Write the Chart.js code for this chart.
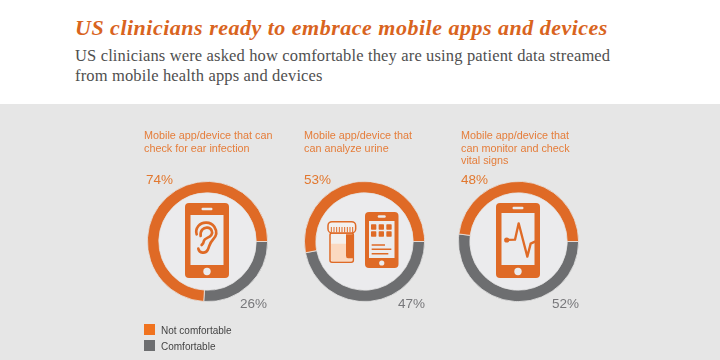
<!DOCTYPE html>
<html>
<head>
<meta charset="utf-8">
<script src="https://cdn.jsdelivr.net/npm/chart.js@4"></script>
<style>
    html, body { margin: 0; padding: 0; overflow: hidden; }
    body { width: 720px; height: 360px; position: relative; background: #fff; font-family: "Liberation Sans", sans-serif; }
    .abs { position: absolute; white-space: nowrap; }
    #panel { position: absolute; left: 0; top: 104px; width: 720px; height: 256px; background: #e6e6e6; }
    #title { left: 75px; top: 14px; font: italic bold 22px/28px "Liberation Serif", serif; color: #d9641e; letter-spacing: 0.5px; }
    #subtitle { left: 75px; top: 46px; font: 16.5px/19.5px "Liberation Serif", serif; color: #4f4f4f; letter-spacing: 0.15px; }
    .question { font-size: 10.8px; line-height: 12.5px; color: #e57d3a; }
    .pct { font-size: 13.5px; line-height: 16px; }
    .disc { position: absolute; border-radius: 50%; background: #ebebed; }
    canvas { position: absolute; }
    .swatch { position: absolute; width: 11px; height: 11px; left: 144px; }
    .legend-text { font-size: 10px; line-height: 12px; color: #444; left: 161px; }
    #icons { position: absolute; left: 0; top: 0; }
</style>
</head>
<body>
<div id="panel"></div>
<div class="abs" id="title">US clinicians ready to embrace mobile apps and devices</div>
<div class="abs" id="subtitle">US clinicians were asked how comfortable they are using patient data streamed<br>from mobile health apps and devices</div>

<svg id="icons" width="720" height="360"></svg>

<script>
document.addEventListener('DOMContentLoaded', function () {
    const questions = [
        ['Mobile app/device that can', 'check for ear infection'],
        ['Mobile app/device that', 'can analyze urine'],
        ['Mobile app/device that', 'can monitor and check', 'vital signs']
    ];
    const seriesNames = ['Not comfortable', 'Comfortable'];
    const notComfortable = [74, 53, 48];
    const comfortable = [26, 47, 52];

    const orange = '#df6a26';
    const gray = '#6d6e70';
    const panelColor = '#e6e6e6';

    const centerX = [207, 364.5, 518.5];
    const centerY = 241;
    const questionLeft = [144, 304, 461];
    const topPctLeft = [146, 304, 461];
    const bottomPctLeft = [240, 398, 552];

    function addText(text, left, top, cls, color) {
        const el = document.createElement('div');
        el.className = 'abs ' + cls;
        el.style.left = left + 'px';
        el.style.top = top + 'px';
        if (color) el.style.color = color;
        el.innerHTML = text;
        document.body.appendChild(el);
    }

    questions.forEach(function (lines, i) {
        addText(lines.join('<br>'), questionLeft[i], 129, 'question');
        addText(notComfortable[i] + '%', topPctLeft[i], 172, 'pct', '#e2782f');
        addText(comfortable[i] + '%', bottomPctLeft[i], 296, 'pct', '#77777a');

        const disc = document.createElement('div');
        disc.className = 'disc';
        disc.style.left = (centerX[i] - 51) + 'px';
        disc.style.top = (centerY - 51) + 'px';
        disc.style.width = '102px';
        disc.style.height = '102px';
        document.body.insertBefore(disc, document.getElementById('icons'));

        const canvas = document.createElement('canvas');
        canvas.width = 121;
        canvas.height = 121;
        canvas.style.left = (Math.round(centerX[i] - 60.5)) + 'px';
        canvas.style.top = (centerY - 60) + 'px';
        canvas.style.width = '121px';
        canvas.style.height = '121px';
        document.body.insertBefore(canvas, document.getElementById('icons'));

        new Chart(canvas.getContext('2d'), {
            type: 'doughnut',
            data: {
                labels: [seriesNames[1], seriesNames[0]],
                datasets: [{
                    data: [comfortable[i], notComfortable[i]],
                    backgroundColor: [gray, orange],
                    borderColor: panelColor,
                    borderWidth: 0.8
                }]
            },
            options: {
                responsive: false,
                animation: false,
                rotation: 90,
                cutout: '81%',
                plugins: { legend: { display: false }, tooltip: { enabled: false } }
            }
        });
    });

    // legend
    ['#f0731f', gray].forEach(function (color, i) {
        const box = document.createElement('div');
        box.className = 'swatch';
        box.style.top = (324 + i * 16) + 'px';
        box.style.background = color;
        document.body.appendChild(box);
        addText(seriesNames[i], 161, 325 + i * 16, 'legend-text');
    });

    // phone, ear, jar and pulse pictograms
    function phone(x, y, w, h, side, screenTop, screenBottom, speakerW, homeR) {
        const cx = x + w / 2;
        return `<rect x="${x}" y="${y}" width="${w}" height="${h}" rx="4" fill="${orange}"/>` +
            `<rect x="${x + side}" y="${screenTop}" width="${w - side * 2}" height="${screenBottom - screenTop}" fill="#ebebed"/>` +
            `<rect x="${cx - speakerW / 2}" y="${y + (screenTop - y) / 2 - 1.2}" width="${speakerW}" height="2.4" rx="1.2" fill="#ebebed"/>` +
            `<circle cx="${cx}" cy="${(screenBottom + y + h) / 2}" r="${homeR}" fill="#ebebed"/>`;
    }

    let icons = '';
    icons += phone(185, 203, 44, 75, 5.5, 215, 265, 11, 3.7);
    icons += `<g transform="translate(170 190) scale(0.3333)" fill="none" stroke="${orange}" stroke-width="8" stroke-linecap="round">` +
        '<path d="M85 176 C88 190 106 192 113 180 C119 168 118 160 128 150 C140 138 142 124 133 110 C122 94 96 94 85 108 C78 117 78 127 80 133"/>' +
        '<path d="M92 138 C90 122 100 112 112 113 C124 114 130 126 124 135 C118 144 104 144 102 152 C101 158 98 162 95 165"/>' +
        '</g>';

    icons += phone(365, 212, 33.5, 56, 4, 221, 258, 8, 2.6);
    icons += `<g transform="translate(320 205) scale(0.3333)" stroke="${orange}" stroke-width="4.5">` +
        '<rect x="30" y="84" width="70" height="88" rx="6" fill="#f3f0ee"/>' +
        '<path d="M33 116 L97 116 L97 163 Q97 169 91 169 L39 169 Q33 169 33 163 Z" fill="#fbd9c0" stroke="none"/>' +
        `<path d="M78 88 L99 88 L99 160 L84 160 Q78 160 78 152 Z" fill="${orange}" stroke="none"/>` +
        '<rect x="24" y="50" width="83" height="34" rx="12" fill="#f3f0ee"/>' +
        '<path d="M34 66 V82 M42 66 V82 M50 66 V82 M58 66 V82 M66 66 V82 M74 66 V82 M82 66 V82 M90 66 V82 M98 66 V82" stroke-width="3"/>' +
        '</g>';
    icons += '<g transform="translate(320 205) scale(0.3333)" fill="' + orange + '">' +
        [161, 184, 207].map(function (x) {
            return [66, 87].map(function (y) {
                return `<rect x="${x - 8}" y="${y - 8}" width="16" height="16" rx="2"/>`;
            }).join('');
        }).join('') + '</g>';
    icons += `<g transform="translate(320 205) scale(0.3333)" stroke="${orange}" stroke-width="4.5">` +
        '<path d="M155 120 H195 M155 133 H214 M155 146 H205"/></g>';

    icons += phone(496, 203, 44, 75, 5.5, 213, 265, 11, 3.7);
    icons += `<g transform="translate(485 195) scale(0.3333)" fill="none" stroke="${orange}" stroke-width="7" stroke-linecap="round" stroke-linejoin="round">` +
        '<path d="M65 135 L90 134 L101 85 L114 135 L127 185 L137 146 L150 140"/></g>' +
        `<circle cx="506.7" cy="240" r="2.6" fill="${orange}"/>`;
    document.getElementById('icons').innerHTML = icons;
});
</script>
</body>
</html>
